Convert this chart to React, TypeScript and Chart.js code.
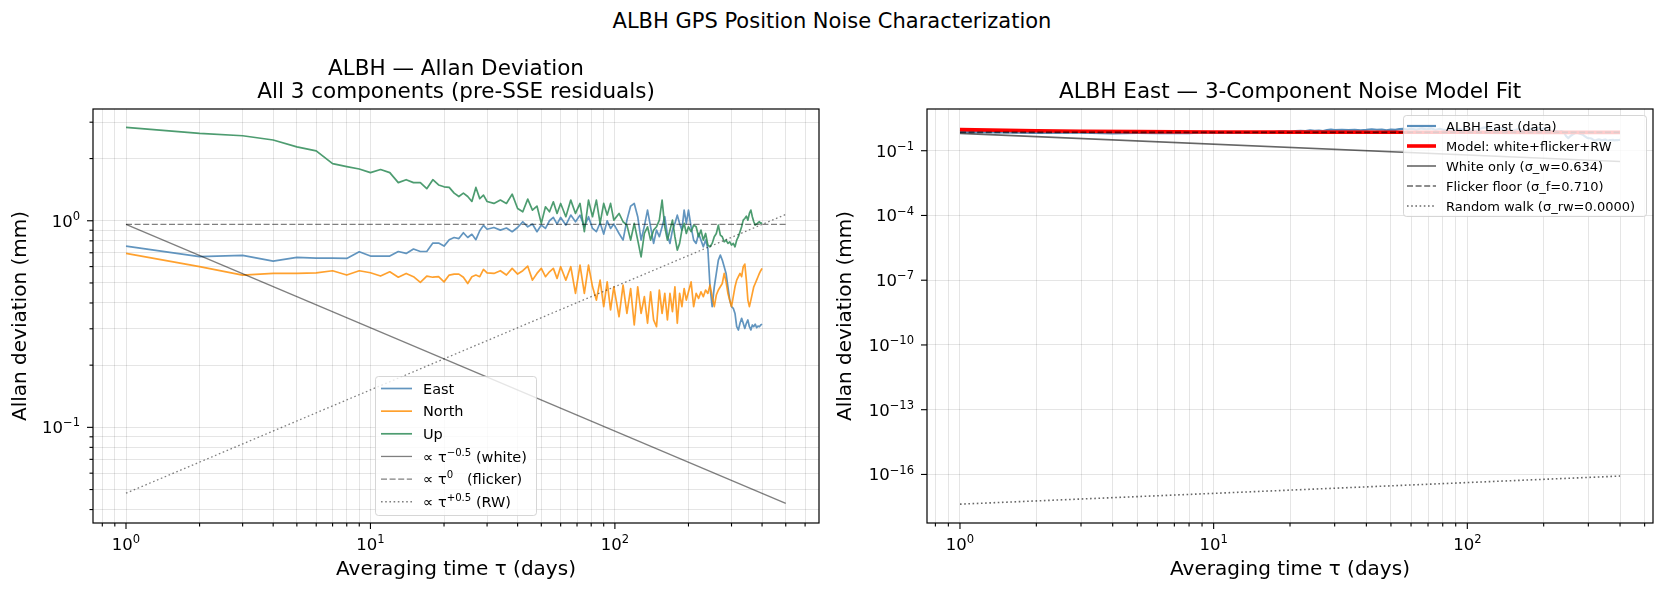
import React, { useEffect, useRef } from "react";
import { Chart, registerables } from "chart.js";

Chart.register(...registerables);

const FONT = '"DejaVu Sans", "Liberation Sans", sans-serif';

// Averaging times (days) at which the Allan deviation was evaluated
const TAU = [
  1, 2, 3, 4, 5, 6, 7, 8, 9, 10, 11, 12, 13, 14, 15, 16, 17, 18, 19, 20, 21, 22, 23, 24, 25, 26, 27, 28, 29, 30,
  32, 34, 36, 38, 40, 42, 44, 46, 48, 50, 52, 54, 56, 58, 60,
  63, 66, 69, 72, 75, 78, 81, 84, 87, 90, 93, 96, 99,
  104, 108, 112, 116, 120, 124, 128, 132, 136, 140, 144, 148, 152, 156, 160, 164, 168, 172, 176, 180, 184, 188, 192, 196, 200,
  205, 210, 215, 220, 225, 230, 235, 240, 245, 250, 255, 260, 265, 270, 275, 280, 285, 290, 295, 300,
  305, 310, 315, 320, 325, 330, 335, 340, 345, 350, 355, 360, 365, 370, 375, 380, 385, 390, 395, 400,
];

// Allan deviation (mm) per component
const EAST = [
  0.754, 0.67, 0.68, 0.638, 0.665, 0.66, 0.66, 0.657, 0.708, 0.675, 0.675, 0.675, 0.71, 0.695, 0.73, 0.71, 0.71, 0.78, 0.78, 0.754,
  0.81, 0.83, 0.82, 0.875, 0.83, 0.86, 0.81, 0.895, 0.95, 0.91,
  0.928, 0.901, 0.922, 0.885, 0.928, 0.989, 0.935, 0.964, 0.885, 0.953, 0.918, 1.0, 1.038, 0.964, 1.038,
  0.953, 1.065, 0.989, 1.065, 0.935, 1.046, 0.918, 0.885, 0.978, 0.862, 1.0, 0.918, 0.964,
  0.868, 0.806, 1.007, 1.178, 1.213, 1.046, 0.806, 0.942, 1.126, 0.935, 0.777, 0.901, 0.837, 0.935, 1.046, 0.852, 0.777, 0.901,
  0.971, 1.065, 0.971, 0.901, 1.126, 0.971, 1.126,
  0.935, 0.806, 0.777, 0.868, 0.806, 0.748, 0.806, 0.734, 0.479, 0.384, 0.479, 0.556, 0.645, 0.682, 0.645, 0.599, 0.556, 0.479,
  0.413, 0.384, 0.377, 0.356, 0.307, 0.296, 0.319, 0.337, 0.319, 0.301, 0.319, 0.331, 0.307, 0.296, 0.313, 0.307, 0.316, 0.304,
  0.309, 0.307, 0.313, 0.316,
];

const NORTH = [
  0.695, 0.6, 0.546, 0.556, 0.556, 0.56, 0.573, 0.546, 0.573, 0.56, 0.54, 0.566, 0.533, 0.556, 0.536, 0.503, 0.54, 0.533, 0.536, 0.506,
  0.546, 0.552, 0.552, 0.533, 0.497, 0.536, 0.546, 0.536, 0.581, 0.56,
  0.556, 0.573, 0.546, 0.588, 0.552, 0.573, 0.603, 0.516, 0.556, 0.588, 0.536, 0.566, 0.588, 0.526, 0.599,
  0.516, 0.599, 0.445, 0.61, 0.445, 0.61, 0.479, 0.413, 0.516, 0.384, 0.506, 0.37, 0.479,
  0.343, 0.488, 0.356, 0.47, 0.313, 0.479, 0.356, 0.429, 0.319, 0.453, 0.331, 0.307, 0.462, 0.356, 0.445, 0.331, 0.445, 0.363,
  0.479, 0.319, 0.445, 0.384, 0.47, 0.413, 0.453,
  0.506, 0.384, 0.445, 0.421, 0.453, 0.429, 0.462, 0.445, 0.488, 0.429, 0.384, 0.437, 0.462, 0.479, 0.497, 0.556, 0.506, 0.445,
  0.413, 0.384, 0.429, 0.479, 0.516, 0.536, 0.556, 0.536, 0.599, 0.617, 0.516, 0.413, 0.384, 0.413, 0.445, 0.479, 0.497, 0.516,
  0.536, 0.556, 0.573, 0.588,
];

const UP = [
  2.83, 2.65, 2.58, 2.46, 2.28, 2.18, 1.89, 1.83, 1.78, 1.71, 1.77, 1.71, 1.53, 1.58, 1.53, 1.53, 1.43, 1.58, 1.49, 1.46,
  1.45, 1.36, 1.31, 1.36, 1.31, 1.24, 1.45, 1.28, 1.33, 1.24,
  1.213, 1.259, 1.213, 1.345, 1.147, 1.105, 1.273, 1.126, 1.178, 0.971, 1.169, 1.105, 1.236, 1.085, 1.213,
  1.046, 1.259, 1.085, 1.213, 0.885, 1.259, 1.046, 1.259, 0.971, 1.213, 1.065, 1.213, 1.007,
  1.085, 0.989, 0.953, 0.806, 0.971, 0.806, 0.669, 0.868, 0.935, 0.806, 0.901, 0.935, 1.007, 1.259, 0.935, 0.806, 0.901, 1.007,
  0.837, 0.721, 0.777, 0.901, 0.971, 0.868, 0.935,
  0.885, 0.953, 0.935, 0.837, 0.901, 0.806, 0.868, 0.763, 0.748, 0.777, 0.837, 0.868, 0.953, 0.852, 0.837, 0.791, 0.806, 0.777,
  0.791, 0.763, 0.777, 0.748, 0.806, 0.837, 0.885, 0.935, 1.007, 1.026, 1.053, 1.007, 1.085, 1.126, 1.046, 0.989, 0.953, 0.964,
  0.978, 0.989, 0.971, 0.978,
];

// Reference power-law slopes (end points at τ = 1 and τ = 500 days)
const REF_TAU = [1, 500];
const WHITE_REF = [0.96, 0.0429];
const FLICKER_REF = [0.96, 0.96];
const RW_REF = [0.048, 1.073];

// Fitted East noise model and its components
const MODEL_TAU = [1, 2, 3, 5, 10, 20, 50, 100, 200, 400];
const MODEL_EAST = [0.952, 0.84, 0.799, 0.765, 0.738, 0.724, 0.716, 0.713, 0.711, 0.711];
const FIT_TAU = [1, 400];
const WHITE_FIT = [0.634, 0.0317];
const FLICKER_FIT = [0.71, 0.71];
const RW_FIT = [4.2e-18, 8.4e-17];

// Tick positions
const DECADE_X_MAJOR = [1, 10, 100];
const LEFT_X_MINOR = [0.8, 0.9, 2, 3, 4, 5, 6, 7, 8, 9, 20, 30, 40, 50, 60, 70, 80, 90, 200, 300, 400, 500, 600];
const RIGHT_X_MINOR = [0.8, 0.9, 2, 3, 4, 5, 6, 7, 8, 9, 20, 30, 40, 50, 60, 70, 80, 90, 200, 300, 400, 500];
const LEFT_Y_MAJOR = [0.1, 1];
const LEFT_Y_MINOR = [0.04, 0.05, 0.06, 0.07, 0.08, 0.09, 0.2, 0.3, 0.4, 0.5, 0.6, 0.7, 0.8, 0.9, 2, 3];
const RIGHT_Y_MAJOR = [1e-16, 1e-13, 1e-10, 1e-7, 1e-4, 1e-1];

const GRID = "rgba(0,0,0,0.1)";
const TITLE_SIZE = 21.5;
const LABEL_SIZE = 20;

type Seg = { t: string; sup?: boolean };
type LegendRow = { label: Seg[]; color: string; width: number; dash: number[] };

const pts = (xs: number[], ys: number[]) => xs.map((x, i) => ({ x, y: ys[i] }));

function richWidth(ctx: CanvasRenderingContext2D, segs: Seg[], size: number) {
  let w = 0;
  for (const s of segs) {
    ctx.font = `${s.sup ? size * 0.7 : size}px ${FONT}`;
    w += ctx.measureText(s.t).width;
  }
  return w;
}

function drawRich(
  ctx: CanvasRenderingContext2D,
  segs: Seg[],
  x: number,
  baseline: number,
  size: number,
  align: "left" | "center" | "right"
) {
  const w = richWidth(ctx, segs, size);
  let cx = align === "left" ? x : align === "center" ? x - w / 2 : x - w;
  ctx.textAlign = "left";
  ctx.textBaseline = "alphabetic";
  for (const s of segs) {
    const fs = s.sup ? size * 0.7 : size;
    ctx.font = `${fs}px ${FONT}`;
    ctx.fillText(s.t, cx, s.sup ? baseline - size * 0.42 : baseline);
    cx += ctx.measureText(s.t).width;
  }
}

const powLabel = (v: number): Seg[] => {
  const e = Math.round(Math.log10(v));
  return [{ t: "10" }, { t: e < 0 ? "\u2212" + Math.abs(e) : String(e), sup: true }];
};

type PanelSpec = {
  left: number;
  width: number;
  area: { left: number; right: number; top: number; bottom: number };
  xRange: [number, number];
  yRange: [number, number];
  xMajor: number[];
  xMinor: number[];
  yMajor: number[];
  yMinor: number[];
  titles: { text: string; y: number }[];
  yTitlePad: number;
  datasets: any[];
  legend: {
    box: { x: number; y: number; w: number; h: number };
    row0: number;
    dy: number;
    handle: [number, number];
    textX: number;
    size: number;
    rows: LegendRow[];
  };
};

function makeDecor(spec: PanelSpec) {
  return {
    id: "decor",
    afterDraw(chart: any) {
      const ctx: CanvasRenderingContext2D = chart.ctx;
      const ca = chart.chartArea;
      const xs = chart.scales.x;
      const ys = chart.scales.y;
      ctx.save();

      // legend
      const L = spec.legend;
      ctx.beginPath();
      (ctx as any).roundRect(L.box.x + 0.5, L.box.y + 0.5, L.box.w, L.box.h, 3);
      ctx.fillStyle = "rgba(255,255,255,0.8)";
      ctx.fill();
      ctx.strokeStyle = "rgba(204,204,204,0.8)";
      ctx.lineWidth = 1;
      ctx.stroke();
      L.rows.forEach((r, i) => {
        const y = L.row0 + i * L.dy;
        ctx.beginPath();
        ctx.setLineDash(r.dash);
        ctx.strokeStyle = r.color;
        ctx.lineWidth = r.width;
        ctx.lineCap = "butt";
        ctx.moveTo(L.handle[0], y);
        ctx.lineTo(L.handle[1], y);
        ctx.stroke();
        ctx.setLineDash([]);
        ctx.fillStyle = "#000";
        drawRich(ctx, r.label, L.textX, y + L.size * 0.36, L.size, "left");
      });

      // frame
      ctx.strokeStyle = "#000";
      ctx.lineWidth = 1.2;
      ctx.strokeRect(ca.left, ca.top, ca.right - ca.left, ca.bottom - ca.top);

      // tick marks
      ctx.lineWidth = 1.1;
      const tickX = (vals: number[], len: number) => {
        for (const v of vals) {
          const p = xs.getPixelForValue(v);
          if (p < ca.left - 0.5 || p > ca.right + 0.5) continue;
          ctx.beginPath();
          ctx.moveTo(p, ca.bottom);
          ctx.lineTo(p, ca.bottom + len);
          ctx.stroke();
        }
      };
      const tickY = (vals: number[], len: number) => {
        for (const v of vals) {
          const p = ys.getPixelForValue(v);
          if (p < ca.top - 0.5 || p > ca.bottom + 0.5) continue;
          ctx.beginPath();
          ctx.moveTo(ca.left, p);
          ctx.lineTo(ca.left - len, p);
          ctx.stroke();
        }
      };
      tickX(spec.xMajor, 6);
      tickX(spec.xMinor, 3.5);
      tickY(spec.yMajor, 6);
      tickY(spec.yMinor, 3.5);

      // tick labels
      ctx.fillStyle = "#000";
      for (const v of spec.xMajor) {
        drawRich(ctx, powLabel(v), xs.getPixelForValue(v), ca.bottom + 27, 16.5, "center");
      }
      for (const v of spec.yMajor) {
        drawRich(ctx, powLabel(v), ca.left - 13, ys.getPixelForValue(v) + 6, 16.5, "right");
      }

      // panel titles
      ctx.textAlign = "center";
      ctx.textBaseline = "middle";
      ctx.font = `${TITLE_SIZE}px ${FONT}`;
      const cx = (ca.left + ca.right) / 2;
      for (const t of spec.titles) ctx.fillText(t.text, cx, t.y);
      ctx.restore();
    },
  };
}

function Panel({ spec }: { spec: PanelSpec }) {
  const ref = useRef<HTMLCanvasElement | null>(null);
  useEffect(() => {
    if (!ref.current) return;
    const H = 592;
    const chart = new Chart(ref.current, {
      type: "line",
      data: { datasets: spec.datasets },
      options: {
        animation: false,
        responsive: false,
        maintainAspectRatio: false,
        events: [],
        layout: {
          padding: { top: spec.area.top, left: 0, right: spec.width - spec.area.right, bottom: 0 },
        },
        plugins: { legend: { display: false }, tooltip: { enabled: false }, title: { display: false } },
        elements: { point: { radius: 0 }, line: { tension: 0 } },
        scales: {
          x: {
            type: "logarithmic",
            bounds: "data",
            min: spec.xRange[0],
            max: spec.xRange[1],
            afterBuildTicks: (s: any) => {
              s.ticks = [...spec.xMajor, ...spec.xMinor].map((v) => ({ value: v }));
            },
            afterFit: (s: any) => {
              s.height = H - spec.area.bottom;
            },
            ticks: { display: false },
            grid: { color: GRID, lineWidth: 1, drawTicks: false },
            border: { display: false },
            title: {
              display: true,
              text: "Averaging time \u03c4 (days)",
              color: "#000",
              font: { family: FONT, size: LABEL_SIZE },
              padding: { top: 0, bottom: 10 },
            },
          },
          y: {
            type: "logarithmic",
            bounds: "data",
            min: spec.yRange[0],
            max: spec.yRange[1],
            afterBuildTicks: (s: any) => {
              s.ticks = [...spec.yMajor, ...spec.yMinor].map((v) => ({ value: v }));
            },
            afterFit: (s: any) => {
              s.width = spec.area.left;
            },
            ticks: { display: false },
            grid: { color: GRID, lineWidth: 1, drawTicks: false },
            border: { display: false },
            title: {
              display: true,
              text: "Allan deviation (mm)",
              color: "#000",
              font: { family: FONT, size: LABEL_SIZE },
              padding: { top: spec.yTitlePad, bottom: 0 },
            },
          },
        },
      },
      plugins: [makeDecor(spec)],
    } as any);
    return () => chart.destroy();
  }, [spec]);
  return (
    <canvas
      ref={ref}
      width={spec.width}
      height={592}
      style={{ position: "absolute", left: spec.left, top: 0, width: spec.width, height: 592 }}
    />
  );
}

const line = (data: any[], color: string, width: number, dash: number[], order: number) => ({
  data,
  borderColor: color,
  borderWidth: width,
  borderDash: dash,
  borderJoinStyle: "round",
  borderCapStyle: "butt",
  pointRadius: 0,
  fill: false,
  order,
});

const C_EAST = "rgba(70,130,180,0.85)";
const C_NORTH = "rgba(255,140,0,0.82)";
const C_UP = "rgba(46,139,87,0.85)";
const C_REF = "rgba(0,0,0,0.5)";
const C_FIT = "rgba(0,0,0,0.6)";
const DASH = [6, 2.6];
const DOT = [1.6, 2.6];

const LEFT_SPEC: PanelSpec = {
  left: 0,
  width: 832,
  area: { left: 93, right: 819, top: 109, bottom: 523 },
  xRange: [Math.pow(10, -0.135), Math.pow(10, 2.835)],
  yRange: [Math.pow(10, -1.463), Math.pow(10, 0.541)],
  xMajor: DECADE_X_MAJOR,
  xMinor: LEFT_X_MINOR,
  yMajor: LEFT_Y_MAJOR,
  yMinor: LEFT_Y_MINOR,
  titles: [
    { text: "ALBH \u2014 Allan Deviation", y: 69 },
    { text: "All 3 components (pre-SSE residuals)", y: 92.5 },
  ],
  yTitlePad: 9,
  datasets: [
    line(pts(TAU, EAST), C_EAST, 1.7, [], 0),
    line(pts(TAU, NORTH), C_NORTH, 1.7, [], -1),
    line(pts(TAU, UP), C_UP, 1.7, [], -2),
    line(pts(REF_TAU, WHITE_REF), C_REF, 1.3, [], -3),
    line(pts(REF_TAU, FLICKER_REF), C_REF, 1.3, DASH, -4),
    line(pts(REF_TAU, RW_REF), C_REF, 1.3, DOT, -5),
  ],
  legend: {
    box: { x: 375, y: 376, w: 161, h: 139 },
    row0: 388.5,
    dy: 22.65,
    handle: [381, 412],
    textX: 423,
    size: 14.5,
    rows: [
      { label: [{ t: "East" }], color: C_EAST, width: 1.7, dash: [] },
      { label: [{ t: "North" }], color: C_NORTH, width: 1.7, dash: [] },
      { label: [{ t: "Up" }], color: C_UP, width: 1.7, dash: [] },
      { label: [{ t: "\u221d \u03c4" }, { t: "\u22120.5", sup: true }, { t: " (white)" }], color: C_REF, width: 1.3, dash: [] },
      { label: [{ t: "\u221d \u03c4" }, { t: "0", sup: true }, { t: "   (flicker)" }], color: C_REF, width: 1.3, dash: DASH },
      { label: [{ t: "\u221d \u03c4" }, { t: "+0.5", sup: true }, { t: " (RW)" }], color: C_REF, width: 1.3, dash: DOT },
    ],
  },
};

const RIGHT_SPEC: PanelSpec = {
  left: 832,
  width: 832,
  area: { left: 95, right: 821, top: 109, bottom: 523 },
  xRange: [Math.pow(10, -0.13), Math.pow(10, 2.732)],
  yRange: [Math.pow(10, -18.25), Math.pow(10, 0.933)],
  xMajor: DECADE_X_MAJOR,
  xMinor: RIGHT_X_MINOR,
  yMajor: RIGHT_Y_MAJOR,
  yMinor: [],
  titles: [{ text: "ALBH East \u2014 3-Component Noise Model Fit", y: 92.5 }],
  yTitlePad: 2,
  datasets: [
    line(pts(TAU, EAST), "rgba(70,130,180,0.9)", 2.2, [], 0),
    line(pts(MODEL_TAU, MODEL_EAST), "#ff0000", 3.6, [], -1),
    line(pts(FIT_TAU, WHITE_FIT), C_FIT, 1.6, [], -2),
    line(pts(FIT_TAU, FLICKER_FIT), C_FIT, 1.6, DASH, -3),
    line(pts(FIT_TAU, RW_FIT), C_FIT, 1.6, DOT, -4),
  ],
  legend: {
    box: { x: 571, y: 115, w: 243, h: 101 },
    row0: 126,
    dy: 20,
    handle: [575, 604],
    textX: 614,
    size: 13,
    rows: [
      { label: [{ t: "ALBH East (data)" }], color: "rgba(70,130,180,0.9)", width: 2.2, dash: [] },
      { label: [{ t: "Model: white+flicker+RW" }], color: "#ff0000", width: 3.6, dash: [] },
      { label: [{ t: "White only (\u03c3_w=0.634)" }], color: C_FIT, width: 1.6, dash: [] },
      { label: [{ t: "Flicker floor (\u03c3_f=0.710)" }], color: C_FIT, width: 1.6, dash: DASH },
      { label: [{ t: "Random walk (\u03c3_rw=0.0000)" }], color: C_FIT, width: 1.6, dash: DOT },
    ],
  },
};

export default function App() {
  return (
    <div
      style={{
        position: "fixed",
        left: 0,
        top: 0,
        width: 1664,
        height: 592,
        background: "#fff",
        overflow: "hidden",
      }}
    >
      <div
        style={{
          position: "absolute",
          left: 0,
          top: 8,
          width: 1664,
          textAlign: "center",
          font: `21px ${FONT}`,
          lineHeight: "26px",
          color: "#000",
        }}
      >
        ALBH GPS Position Noise Characterization
      </div>
      <Panel spec={LEFT_SPEC} />
      <Panel spec={RIGHT_SPEC} />
    </div>
  );
}
